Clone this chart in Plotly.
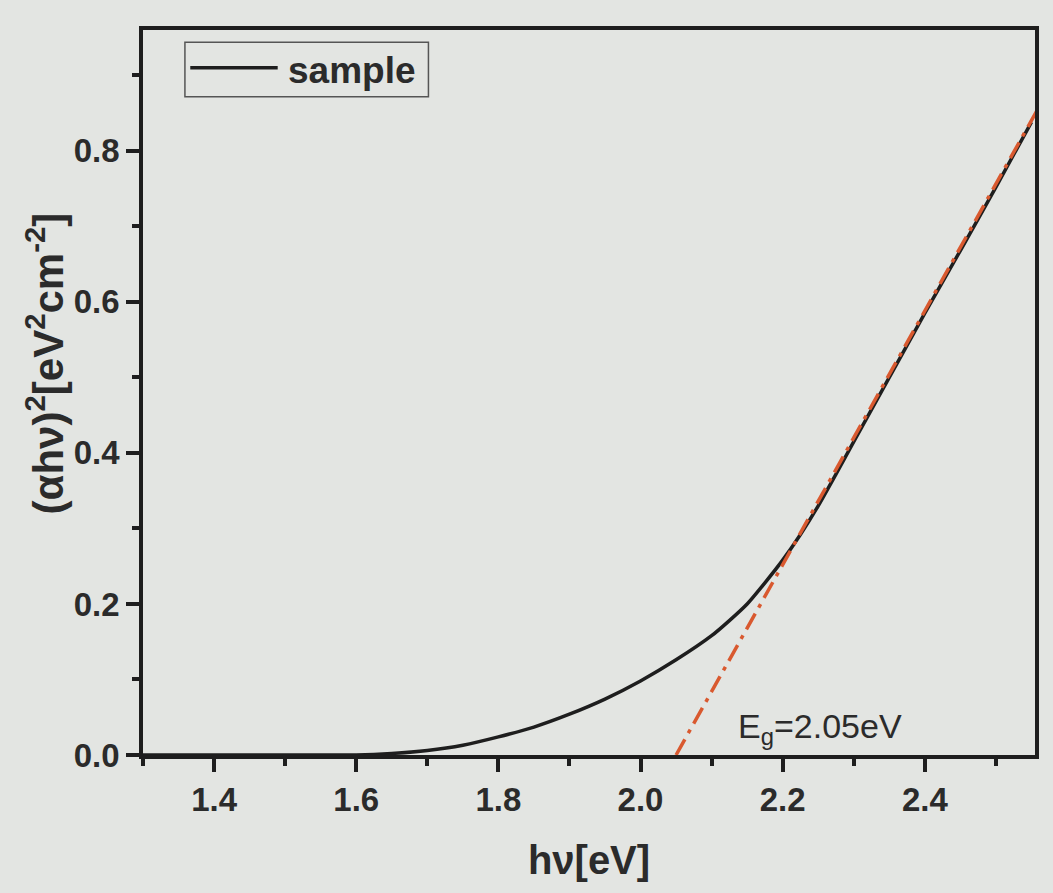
import plotly.graph_objects as go

# Data
hv = [1.30, 1.40, 1.50, 1.60, 1.65, 1.70, 1.75, 1.80, 1.85, 1.90, 1.95,
      2.00, 2.05, 2.10, 2.125, 2.15, 2.175, 2.20, 2.225, 2.25, 2.275, 2.30,
      2.35, 2.40, 2.45, 2.50, 2.55]
ahv2 = [0.0, 0.0, 0.0, 0.0, 0.002, 0.006, 0.013, 0.024, 0.037, 0.054, 0.074,
        0.098, 0.126, 0.158, 0.178, 0.200, 0.228, 0.258, 0.292, 0.330, 0.372, 0.415,
        0.500, 0.585, 0.668, 0.752, 0.838]
fit_x = [2.05, 2.56]
fit_y = [0.0, 0.857]
series_name = "sample"
eg_label = "E<sub>g</sub>=2.05eV"

FONT = "Liberation Sans, Arial, sans-serif"
TXT = "#2b2b2b"
BG = "#e3e5e2"

fig = go.Figure()
fig.add_trace(go.Scatter(x=hv, y=ahv2, mode="lines", name=series_name,
                         line=dict(color="#1e1e1e", width=3.5, shape="spline", smoothing=0.6),
                         showlegend=False))
fig.add_trace(go.Scatter(x=fit_x, y=fit_y, mode="lines", name="fit",
                         line=dict(color="#d9592f", width=3.5, dash="18px,7px,4px,7px"),
                         showlegend=False))

axis_common = dict(showline=True, linecolor="#1e1e1e", linewidth=3.5, mirror=True,
                   ticks="outside", ticklen=13, tickwidth=3.5, tickcolor="#1e1e1e",
                   showgrid=False, zeroline=False,
                   tickfont=dict(family=FONT, size=33, color=TXT, weight="bold"))

fig.update_xaxes(range=[1.3, 2.555], tick0=1.4, dtick=0.2, tickformat=".1f",
                 minor=dict(dtick=0.1, tick0=1.3, ticklen=7, tickwidth=3.5,
                            tickcolor="#1e1e1e", ticks="outside"),
                 title=dict(text="h\u03bd[eV]", standoff=30,
                            font=dict(family=FONT, size=40, color=TXT, weight="bold")),
                 **axis_common)
fig.update_yaxes(range=[0, 0.96], tick0=0, dtick=0.2, tickformat=".1f",
                 minor=dict(dtick=0.1, tick0=0, ticklen=7, tickwidth=3.5,
                            tickcolor="#1e1e1e", ticks="outside"),
                 **axis_common)

# Legend box drawn manually (long line sample as in the reference)
fig.add_shape(type="rect", xref="paper", yref="paper", x0=0.047, x1=0.32, y0=0.908, y1=0.983,
              line=dict(color="#555555", width=1.5), fillcolor="rgba(0,0,0,0)")
fig.add_shape(type="line", xref="paper", yref="paper", x0=0.053, x1=0.151, y0=0.948, y1=0.948,
              line=dict(color="#1e1e1e", width=3.5))
fig.add_annotation(xref="paper", yref="paper", x=0.16, y=0.944, text=series_name,
                   showarrow=False, xanchor="left", yanchor="middle",
                   font=dict(family=FONT, size=37, color=TXT, weight="bold"))

# Band gap label
fig.add_annotation(x=2.135, y=0.004, text=eg_label, showarrow=False,
                   xanchor="left", yanchor="bottom",
                   font=dict(family=FONT, size=34, color=TXT))

# Y axis title
fig.add_annotation(xref="paper", yref="paper", x=-0.11, y=0.54,
                   text="(\u03b1h\u03bd)<sup>2</sup>[eV<sup>2</sup>cm<sup>-2</sup>]",
                   textangle=-90, showarrow=False, xanchor="center", yanchor="middle",
                   font=dict(family=FONT, size=42, color=TXT, weight="bold"))

fig.update_layout(width=1053, height=893, paper_bgcolor=BG, plot_bgcolor=BG,
                  margin=dict(l=143, r=18, t=30, b=138), showlegend=False)

fig.write_html("out.html")
